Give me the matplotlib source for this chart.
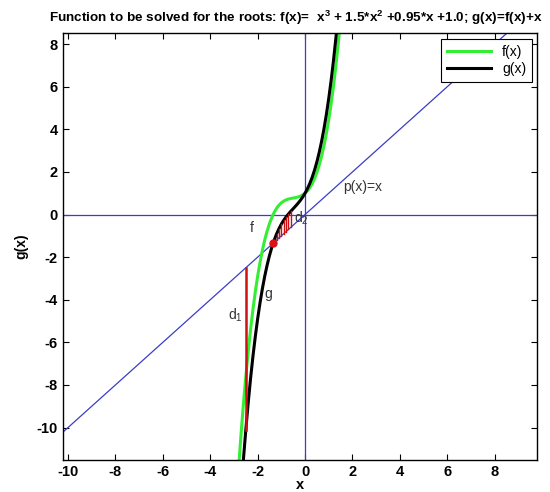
import numpy as np
import matplotlib
matplotlib.use('Agg')
import matplotlib.pyplot as plt

# curve samples: f(x) = x^3 + 1.5x^2 + 0.95x + 1.0 and g(x) = f(x) + x
x_vals = [-2.8, -2.7, -2.6, -2.5, -2.4, -2.3, -2.2, -2.1, -2.0, -1.9, -1.8,
          -1.7, -1.6, -1.5, -1.4, -1.3, -1.2, -1.1, -1.0, -0.9, -0.8, -0.7,
          -0.6, -0.5, -0.4, -0.3, -0.2, -0.1, 0.0, 0.1, 0.2, 0.3, 0.4, 0.5,
          0.6, 0.7, 0.8, 0.9, 1.0, 1.1, 1.2, 1.3, 1.4, 1.5]
f_vals = [-11.852, -10.313, -8.906, -7.625, -6.464, -5.417, -4.478, -3.641,
          -2.9, -2.249, -1.682, -1.193, -0.776, -0.425, -0.134, 0.103, 0.292,
          0.439, 0.55, 0.631, 0.688, 0.727, 0.754, 0.775, 0.796, 0.823, 0.862,
          0.919, 1.0, 1.111, 1.258, 1.447, 1.684, 1.975, 2.326, 2.743, 3.232,
          3.799, 4.45, 5.191, 6.028, 6.967, 8.014, 9.175]
g_vals = [-14.652, -13.013, -11.506, -10.125, -8.864, -7.717, -6.678, -5.741,
          -4.9, -4.149, -3.482, -2.893, -2.376, -1.925, -1.534, -1.197, -0.908,
          -0.661, -0.45, -0.269, -0.112, 0.027, 0.154, 0.275, 0.396, 0.523,
          0.662, 0.819, 1.0, 1.211, 1.458, 1.747, 2.084, 2.475, 2.926, 3.443,
          4.032, 4.699, 5.45, 6.291, 7.228, 8.267, 9.414, 10.675]

# p(x)=x line ends
p_x = [-10.2, 9.8]

# d1: gap between p(x) and g(x) at x=-2.5
d1_x = -2.5
d1_y = [-2.5, -10.125]

# d2: hatching between p(x) and g(x) near the root
d2_x = [-1.3, -1.2, -1.1, -1.0, -0.9, -0.8, -0.7, -0.6]
d2_g = [-1.197, -0.908, -0.661, -0.45, -0.269, -0.112, 0.027, 0.154]

root_x = -1.356

xlim = (-10.2, 9.8)
ylim = (-11.5, 8.5)
xticks = [-10, -8, -6, -4, -2, 0, 2, 4, 6, 8]
yticks = [-10, -8, -6, -4, -2, 0, 2, 4, 6, 8]

plt.rcParams['font.family'] = ['Liberation Sans', 'DejaVu Sans']
plt.rcParams['axes.unicode_minus'] = False
narrow = ['Liberation Sans Narrow', 'Liberation Sans', 'DejaVu Sans']
blue = '#3c3cc8'
txt = '#333333'

fig = plt.figure(figsize=(5.5, 4.92), dpi=100)
ax = fig.add_axes([0.115, 0.066, 0.862, 0.866])

# reference lines
ax.plot(p_x, p_x, color=blue, lw=0.9)
ax.axhline(0, color=blue, lw=0.9)
ax.axvline(0, color=blue, lw=0.9)

ax.plot(x_vals, f_vals, color='#33ee33', lw=2.2, label='f(x)')
ax.plot(x_vals, g_vals, color='black', lw=2.2, label='g(x)')

# distance markers
ax.plot([d1_x, d1_x], d1_y, color='#cc1111', lw=1.8)
for xv, gv in zip(d2_x, d2_g):
    ax.plot([xv, xv], [xv, gv], color='#cc1111', lw=1.0)
ax.plot([root_x], [root_x], 'o', color='#dd1111', ms=5, mec='#dd1111')

ax.text(-2.25, -0.62, 'f', color=txt, fontsize=10, ha='center', va='center')
ax.text(-1.56, -3.72, 'g', color=txt, fontsize=10, ha='center', va='center')
ax.text(-3.25, -4.75, r'$\mathregular{d_1}$', color=txt, fontsize=10,
        ha='left', va='center')
ax.text(-0.45, -0.2, r'$\mathregular{d_2}$', color=txt, fontsize=10,
        ha='left', va='center')
ax.text(1.6, 1.29, 'p(x)=x', color=txt, fontsize=10, ha='left', va='center')

ax.set_xlim(*xlim)
ax.set_ylim(*ylim)
ax.set_xticks(xticks)
ax.set_yticks(yticks)
ax.tick_params(direction='in', length=4, width=0.8, top=True, right=True,
               labelsize=10.5, pad=4)
for lab in ax.get_xticklabels() + ax.get_yticklabels():
    lab.set_family(narrow)
    lab.set_fontweight('bold')
for s in ax.spines.values():
    s.set_linewidth(1.0)

ax.set_xlabel('x', fontsize=10.5, fontweight='bold', labelpad=-1)
ax.set_ylabel('g(x)', fontsize=10, fontweight='bold', labelpad=6)
ax.set_title(r'Function to be solved for the roots: f(x)=  $\mathregular{x^3}$'
             r' + 1.5*$\mathregular{x^2}$ +0.95*x +1.0; g(x)=f(x)+x',
             fontsize=9.7, fontweight='bold', family=narrow, pad=8, x=0.49)

leg = ax.legend(loc='upper right', fontsize=10, fancybox=False,
                edgecolor='black', framealpha=1, handlelength=3.2,
                borderaxespad=0.4, labelspacing=0.25)
leg.get_frame().set_linewidth(0.8)

fig.savefig('out.png', dpi=100)
